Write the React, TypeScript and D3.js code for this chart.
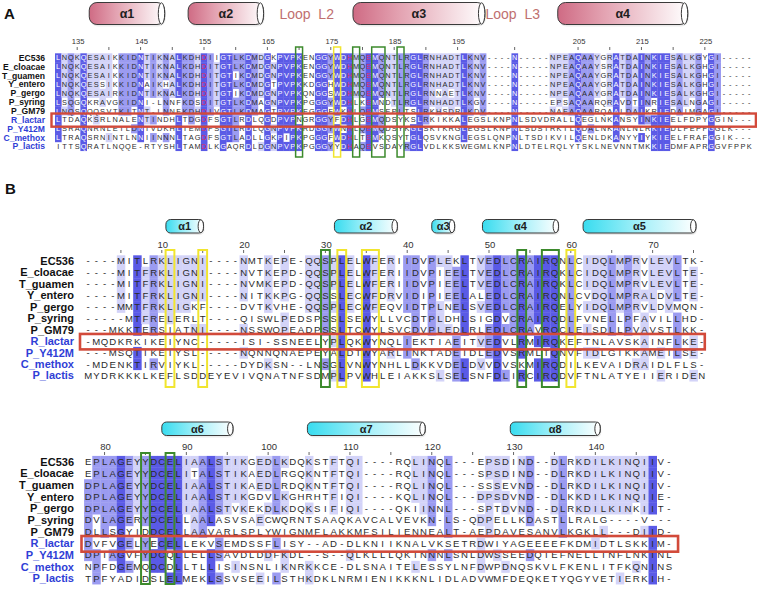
import React from "react";
import * as d3 from "d3";

const names = ["EC536", "E_cloacae", "T_guamen", "Y_entero", "P_gergo", "P_syring", "P_GM79", "R_lactar", "P_Y412M", "C_methox", "P_lactis"];
const blueNames = ["R_lactar", "P_Y412M", "C_methox", "P_lactis"];
const highlightRow = "R_lactar";

const seqA = [
  "LNQKQESAIKKIDNTIKNALKDHDIIGTLKD" + "MDGKPVPKENGGYWDHMQEMQNTLRGLRNHADTLKNV" + "----" + "N-----NPEAQAAYGRATDAINKIESALKGYGI-----",
  "LNQKQESAIKKIDNTIKNALKDHDITGTLKD" + "MDGNPVPKENGGYWDHMQEMQNTLRGLRNHADTLKNV" + "----" + "N-----NPEAQAAYSRATDAINKIESALKGHGI-----",
  "LNQKQESAIKKIDNTIKNALKDHDITGTIKD" + "MDGNPVPKENGGYWDHMQEMQNTLRGLRNHADTLKNV" + "----" + "N-----NPEAQAAYGRATDAINKIESALKGHGI-----",
  "LNQKQESSIKKIDNAIKHALKDHDITGTLKD" + "MDGTPVPKKDGGHWDHMQEMQNTLRGLRNHADTLKNV" + "----" + "N-----NPEAQAAYGRATDAINKIESALKGHGI-----",
  "LNQKQESAIRKIDNTIKNALKDHDITGTIKD" + "MDGNPVPKQNGGSWDHMQEMQNTLRGLRNNAETLKNV" + "----" + "N-----NPEAQAAYGRATDAINKIESALKGHGI-----",
  "LSQGQKRAVGKIDNI-LNNFKDSDITGTLKD" + "MAGNPVPKPGGGYWDHLKEMNDTLRGLRNHADTLKGV" + "----" + "N-----EPSAQAARQRAVDTINRIESALNGAGI-----",
  "LNQSQQQSVTKITNT-LNNFKDHDIVGTLKD" + "MAGTPVPKEGGGFWKHLQEMSEPLTSLRKHSDRLKDV" + "----" + "N-----NAEAQAARQAALDAIKRIEDAIMGAGI-----",
  "LTDAQKSRLNALENTINDHLTDGDFSGTLRD" + "LQGDPVPNGRGGYFDHLGEMQDSYKSLRKIKKALEGSLKNP" + "NLSDVDRALLQEGLNKANSYINKIEELFDPYGGIN---",
  "LSRAQNRNLETLDNIVDKHLTEMDFSGTLRD" + "LQGNPVPKRDGGYWNHLQEMQDSYKGLSKIKRGLEGSLKNP" + "NLSDSTRKTLQDALNKANLNLRKIEDLFEPFGGLK---",
  "LTRAQSRNINTLNNIINNNLTAGDFSGTLAD" + "LLGKPIPKPGGGFWDHLTEMKQSYTGLQSVKNGLEGSLQNP" + "NLTSDIKVILQENLDKANYYIYKIEELFRAFGGIK---",
  "ITTSQRATLNQQE-RTYSHLTAMDLKGAQRD" + "LDGNPVPKPGGGYYDHAQEVSDAYRGLVDLKKSWEGMLKNP" + "NLDTELRQLYTSKLNEVNNTMKKIEDMFAPRGGVFPPK",
];

const seqB1 = [
  "----MITLRKLIGNI----NMTKEPE-QQSPLELWFERIIDVPLEKLTVEDLCRAIRQNLCIDQLMPRVLEVLTK-",
  "----MITFRKLIGNI----NVTKEPD-QQSPLELWFERIIDVPIEELTVEDLCRAIRQKLCIDQLMPRVLEVLTE-",
  "----MITFRKLIGNI----NVMKEPD-QQSPLELWFERIIDVPIEELTVEDLCRAIRQKLCIDQLMPRVLEVLTE-",
  "----MITFRKLIGNI----NITKKPG-QQSSLECWFDRVIDIPIEELALEDLCRAIRQNLCVDQLMPRALDVLTE-",
  "----MMTFRKLIGKF----DVTKVHE-QQSPLECWFEQVIDTPLNELSVEDLCRAIRQELYIDQLMPRVLDVMQN-",
  "-----MTFRELERLT----QISWLPEDSPSSLSEWYLLVCDTPLDHLSIGDVCRAIRQDLFVNELLPFAVILLHD-",
  "---MKKTERSIATNI----NSSWQPEADPSSLTCWYLSVCDVPLEDLRLEDLCRAVRQCLEISDLLPVAVSTLKK-",
  "-MQDKRKIKEIYNC-----ISI-SSNEELYPLQKWYNQLIEKTIAEITVEDVLRMIRQKEFTNLAVSKAINFLKE-",
  "---MSQTIKEIYSL-----NQNNQNAEPEYALDTWYARLINKTADEIDLEDVSRMLTQNVFIDLGIKKAMEILSE-",
  "-MDENKTIRVIYKL-----DYDKSN--LNSGLVNWYNHLLDKKVDELDVVDVSKMIRQDILKEVAIDRAIDLFLS-",
  "MYDRKKKLKEFLSDDEYEVIVQNATNFSDMPLPVWHLEIAKKSLSELSNFDLIRCIRQDVFTNLATYEIIERIDEN",
];

const seqB2 = [
  "EPLAGEYYDCELIAALSTIKGEDLKDQKSTFTQI----RQLINQL---EPSDIND--DLRKDILKINQIIV-",
  "EPLAGEYYDCELITALSTIKAEDLRGQKNTFTQI----RQLINQL---SPSDIND--DLRKDILKINQIIV-",
  "DPLAGEYYDCELIAALSTIKAEDLRDQKNTFTQI----RQLINQL---SSSEVND--DLRKDILKINQIIV-",
  "DPLAGEYYDCELIAALSTIKGDVLKGHRHTFIQI----KQLINQL---DPSDVND--DLKKDILKINQIIE-",
  "DPLAGEYYDCELIAALSTVKEKDLKDQKSIFIQI----QKIINNL---SPTDVND--DLRKDILKINKIIT-",
  "DVLAGERYDCELLAALASVSAECWQRNTSAAQKAVCALVEVKN-LS-QDPELLKDASTLLRALG----V---",
  "DLLSGYIDDCELLAAVARLSPLYWIGNMFLAKKMFSILIENNEALT-AEPDAVESANVLKGKLL---DIID-",
  "DVFVGELYECELLEKVSEMDSSFLISY--AD-DLKNIIKNALVKSETRDWIYAGEEEEFKDMIDTLSKKIM-",
  "DPIAGVFYDCQLLELLSAVDLDDFKDL--S--QLKLLLQKINNNLSNLDWSSEEDQIEFNELLTNFLNKINL",
  "NPFDGEMQDCDLLTLLISINSNLIKNRKKCE-DLSNAITELESSYLNFDWPDNQSKVLFKENLITFKQNINS",
  "TPFYADIDSLELMEKLSSVSEEILSTHKDKLNRMIENIKKKNLIDLADVWMFDEQKETYQGYVETIERKIH-",
];

// ruler numbering
const startResA = 132; // EC536 residue number of the first column (panel A)
const startColB1 = 1;
const startColB2 = 78;

// secondary structure annotations, in column units
const helicesA = [
  { label: "α1", c0: 5.4, c1: 17.3 },
  { label: "α2", c0: 21.0, c1: 32.9 },
  { label: "α3", c0: 47.0, c1: 67.8 },
  { label: "α4", c0: 79.3, c1: 99.8 },
];
const loopsA = [
  { label: "Loop\u00A0 L2", c: 39.7 },
  { label: "Loop\u00A0 L3", c: 72.2 },
];
const helicesB1 = [
  { label: "α1", c0: 10.0, c1: 14.6 },
  { label: "α2", c0: 30.6, c1: 38.3 },
  { label: "α3", c0: 42.5, c1: 45.3 },
  { label: "α4", c0: 48.7, c1: 58.0 },
  { label: "α5", c0: 61.0, c1: 74.8 },
];
const helicesB2 = [
  { label: "α6", c0: 9.5, c1: 18.2 },
  { label: "α7", c0: 27.3, c1: 41.7 },
  { label: "α8", c0: 52.1, c1: 63.1 },
];

// boxed columns
const boxesA = [
  { c0: 38, c1: 38, k: "g" },
  { c0: 44, c1: 44, k: "y" },
  { c0: 47, c1: 47, k: "g" },
  { c0: 50, c1: 51, k: "g" },
  { c0: 54, c1: 54, k: "g" },
];
const boxesB1 = [
  { c0: 10, c1: 10, k: "y" },
  { c0: 14, c1: 14, k: "y" },
  { c0: 29, c1: 29, k: "g" },
  { c0: 31, c1: 31, k: "y" },
  { c0: 34, c1: 35, k: "y" },
  { c0: 53, c1: 53, k: "g" },
  { c0: 56, c1: 57, k: "g" },
  { c0: 59, c1: 59, k: "y" },
];
const boxesB2 = [
  { c0: 7, c1: 7, k: "g" },
  { c0: 10, c1: 10, k: "g" },
];
const redColsA = [23, 46, 49];

const SHADES = ["none", "#d3d3f8", "#9b9bf1", "#5a5ae6"];
const BOXC: Record<string, string> = { g: "#3c8a2c", y: "#f1e52e" };
const FONT = "'Liberation Sans', Arial, Helvetica, sans-serif";

function shade(seqs: string[]): number[][] {
  const n = seqs.length;
  const L = seqs[0].length;
  const out = seqs.map(() => new Array(L).fill(0));
  for (let c = 0; c < L; c++) {
    const col = seqs.map((s) => s[c]).filter((ch) => ch && ch !== "-");
    const counts = d3.rollup(col, (v) => v.length, (d) => d);
    let best = "";
    let bc = 0;
    counts.forEach((v, k) => {
      if (v > bc) { bc = v; best = k; }
    });
    const pct = (bc / n) * 100;
    const lvl = pct > 80 ? 3 : pct > 60 ? 2 : pct > 40 ? 1 : 0;
    seqs.forEach((s, r) => {
      if (s[c] === best) out[r][c] = lvl;
    });
  }
  return out;
}

type Ticks = { col: number; num: number; label: boolean }[];

function Cylinder({ x1, x2, y, h, label, grad, fs }: any) {
  const cap = Math.min(h * 0.2, 3.2);
  return (
    <g>
      <rect x={x1 + 1} y={y + 2} width={x2 - x1} height={h} rx={h * 0.35} fill="#000" opacity={0.08} />
      <rect x={x1} y={y} width={x2 - x1} height={h} rx={h * 0.35} fill={`url(#${grad})`} stroke="#3a3a3a" strokeWidth={1} />
      <ellipse cx={x2 - cap} cy={y + h / 2} rx={cap} ry={h / 2 - 0.3} fill="#fff" stroke="#3a3a3a" strokeWidth={1} />
      <text x={(x1 + x2) / 2} y={y + h / 2} dy="0.36em" textAnchor="middle" fontWeight="bold" fontSize={fs} fill="#1e1e1e" fontFamily={FONT}>
        {label}
      </text>
    </g>
  );
}

function Block(p: any) {
  const { seqs, x0, cw, y0, rh, fs, nameX, nameFs, darkWhite, redCols, ticks, boxes, boxY0, boxY1, tickY, labelY, tickFs, boxW, redX0, redX1, redPadTop, redPadBot, redW } = p;
  const L = seqs[0].length;
  const x = d3.scaleLinear().domain([0, L]).range([x0, x0 + L * cw]);
  const y = d3.scaleBand<string>().domain(names).range([y0, y0 + names.length * rh]).padding(0);
  const sh = shade(seqs);
  const redSet = new Set(redCols || []);
  const hr = y(highlightRow)!;
  return (
    <g>
      {/* ruler */}
      {(ticks as Ticks).map((t, i) => (
        <g key={"t" + i}>
          <line x1={x(t.col + 0.5)} x2={x(t.col + 0.5)} y1={tickY} y2={tickY + 3} stroke="#555" strokeWidth={0.9} />
          {t.label && (
            <text x={x(t.col + 0.5) + 1} y={labelY} textAnchor="middle" fontSize={tickFs} fill="#333" fontFamily={FONT}>
              {t.num}
            </text>
          )}
        </g>
      ))}
      {/* shading */}
      {seqs.map((s: string, r: number) =>
        s.split("").map((ch, c) =>
          sh[r][c] > 0 && ch !== "-" ? (
            <rect key={`s${r}-${c}`} x={x(c)} y={y(names[r])!} width={cw + 0.3} height={rh + 0.3} fill={SHADES[sh[r][c]]} />
          ) : null
        )
      )}
      {/* letters */}
      {seqs.map((s: string, r: number) =>
        s.split("").map((ch, c) => {
          let fill = "#2b2b2b";
          if (darkWhite && sh[r][c] === 3) fill = redSet.has(c) ? "#e0305a" : "#ffffff";
          return (
            <text key={`l${r}-${c}`} x={x(c + 0.5)} y={y(names[r])! + rh / 2} dy="0.36em" textAnchor="middle" fontSize={fs} fill={fill} fontFamily={FONT}>
              {ch}
            </text>
          );
        })
      )}
      {/* names */}
      {names.map((n) => (
        <text key={"n" + n} x={nameX} y={y(n)! + rh / 2} dy="0.36em" textAnchor="end" fontWeight="bold" fontSize={nameFs} fill={blueNames.includes(n) ? "#2f3ed6" : "#111"} fontFamily={FONT}>
          {n}
        </text>
      ))}
      {/* boxes */}
      {boxes.map((b: any, i: number) => (
        <rect key={"b" + i} x={x(b.c0) - 0.3} y={boxY0} width={x(b.c1 + 1) - x(b.c0) + 0.6} height={boxY1 - boxY0} fill="none" stroke={BOXC[b.k]} strokeWidth={boxW} />
      ))}
      {/* red row box */}
      <rect x={redX0} y={hr - redPadTop} width={x(L) + redX1 - redX0} height={rh + redPadTop + redPadBot} fill="none" stroke="#d24a3a" strokeWidth={redW} />
    </g>
  );
}

function ticksA(): Ticks {
  const ref = seqA[0];
  const out: Ticks = [];
  let num = startResA - 1;
  for (let c = 0; c < ref.length; c++) {
    if (ref[c] === "-") continue;
    num++;
    if (num % 5 === 0) out.push({ col: c, num, label: num % 10 === 5 });
  }
  return out;
}
function ticksB(len: number, start: number): Ticks {
  const out: Ticks = [];
  for (let c = 0; c < len; c++) {
    const num = start + c;
    if (num % 5 === 0) out.push({ col: c, num, label: num % 10 === 0 });
  }
  return out;
}

export default function App() {
  const xA0 = 55, cwA = 6.34;
  const xB0 = 84.1, cwB = 8.18;
  const xa = d3.scaleLinear().domain([0, 1]).range([xA0, xA0 + cwA]);
  const xb = d3.scaleLinear().domain([0, 1]).range([xB0, xB0 + cwB]);
  return (
    <svg width={757} height={591} style={{ position: "fixed", left: 0, top: 0, background: "#fff" }} fontFamily={FONT}>
      <defs>
        <linearGradient id="gPink" x1="0" x2="1" y1="0" y2="0">
          <stop offset="0" stopColor="#cf6b84" />
          <stop offset="0.35" stopColor="#e3a2b1" />
          <stop offset="1" stopColor="#ffffff" />
        </linearGradient>
        <linearGradient id="gCyan" x1="0" x2="1" y1="0" y2="0">
          <stop offset="0" stopColor="#38dcef" />
          <stop offset="0.45" stopColor="#9aeef8" />
          <stop offset="1" stopColor="#ffffff" />
        </linearGradient>
      </defs>
      <rect x={0} y={0} width={757} height={591} fill="#fff" />

      {/* Panel A */}
      <text x={4} y={19} fontWeight="bold" fontSize={15} fill="#111">A</text>
      {helicesA.map((h) => (
        <Cylinder key={h.label} x1={xa(h.c0)} x2={xa(h.c1)} y={2.5} h={22} label={h.label} grad="gPink" fs={12.5} />
      ))}
      {loopsA.map((l) => (
        <text key={l.label} x={xa(l.c)} y={14} dy="0.36em" textAnchor="middle" fontSize={14} fill="#c0706f">{l.label}</text>
      ))}
      <Block seqs={seqA} x0={xA0} cw={cwA} y0={53.3} rh={8.86} fs={7.4} nameX={45} nameFs={8.6} darkWhite={true} redCols={redColsA}
        ticks={ticksA()} boxes={boxesA} boxY0={47} boxY1={157} tickY={47} labelY={44} tickFs={7.6} boxW={1.5}
        redX0={51.5} redX1={3.5} redPadTop={1.8} redPadBot={2.5} redW={2.4} />

      {/* Panel B */}
      <text x={5} y={194} fontWeight="bold" fontSize={15} fill="#111">B</text>
      {helicesB1.map((h) => (
        <Cylinder key={h.label} x1={xb(h.c0)} x2={xb(h.c1)} y={219.5} h={13.5} label={h.label} grad="gCyan" fs={11} />
      ))}
      <Block seqs={seqB1} x0={xB0} cw={cwB} y0={255.3} rh={11.45} fs={9.6} nameX={74} nameFs={11} darkWhite={false}
        ticks={ticksB(seqB1[0].length, startColB1)} boxes={boxesB1} boxY0={250} boxY1={387} tickY={250} labelY={247.5} tickFs={9.5} boxW={2}
        redX0={80} redX1={-1} redPadTop={1.5} redPadBot={2.5} redW={2.6} />

      {helicesB2.map((h) => (
        <Cylinder key={h.label} x1={xb(h.c0)} x2={xb(h.c1)} y={422} h={13.5} label={h.label} grad="gCyan" fs={11} />
      ))}
      <Block seqs={seqB2} x0={xB0} cw={cwB} y0={455.9} rh={11.66} fs={9.6} nameX={74} nameFs={11} darkWhite={false}
        ticks={ticksB(seqB2[0].length, startColB2)} boxes={boxesB2} boxY0={453} boxY1={584} tickY={452} labelY={450} tickFs={9.5} boxW={2}
        redX0={81.5} redX1={5} redPadTop={1.5} redPadBot={2.5} redW={2.6} />
    </svg>
  );
}
